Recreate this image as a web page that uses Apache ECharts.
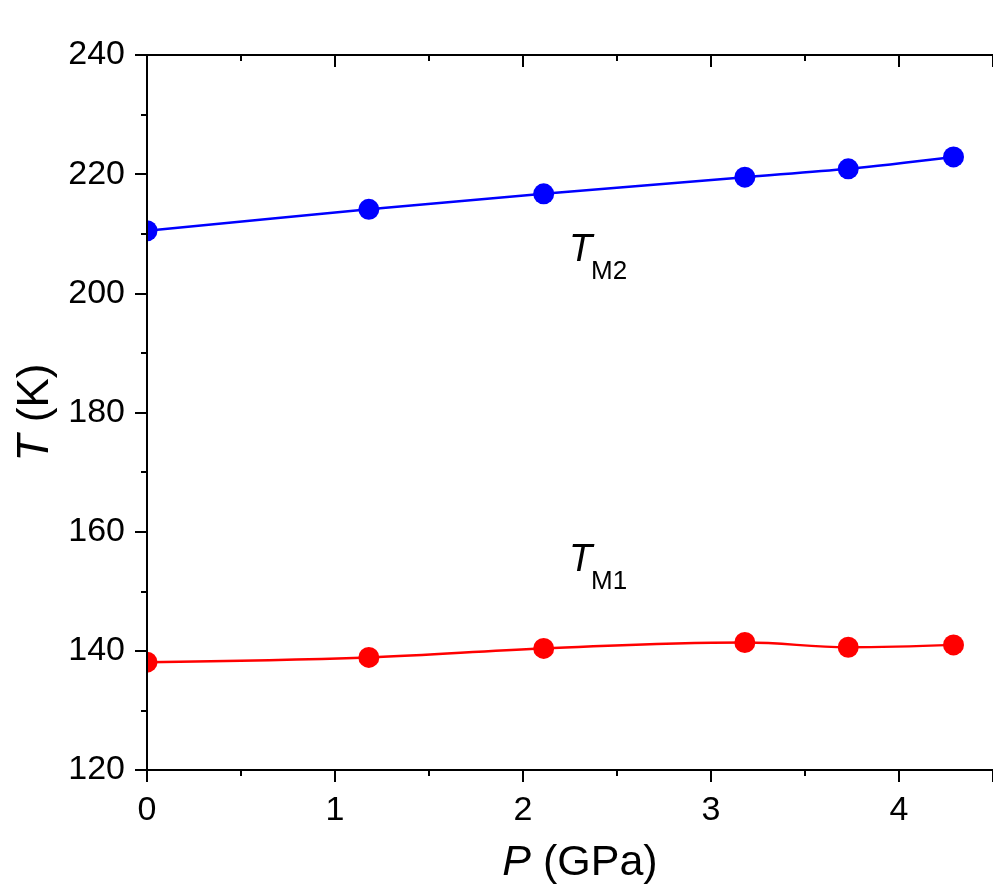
<!DOCTYPE html>
<html>
<head>
<meta charset="utf-8">
<script src="https://cdn.jsdelivr.net/npm/echarts@6/dist/echarts.min.js"></script>
<style>
html, body { margin: 0; padding: 0; background: #fff; }
#main { width: 993px; height: 892px; }
</style>
</head>
<body>
<div id="main"></div>
<script>
var pressure = [0, 1.18, 2.11, 3.18, 3.73, 4.29];
var tM2 = [210.5, 214.1, 216.7, 219.5, 220.9, 222.9];
var tM1 = [138.1, 138.9, 140.4, 141.4, 140.6, 141.0];

var font = '"Liberation Sans", Arial, sans-serif';

function pairs(xs, ys) {
	return xs.map(function (x, i) { return [x, ys[i]]; });
}

function chart() {
	var myChart = echarts.init(document.getElementById('main'));
	var axisLine = { lineStyle: { color: '#000', width: 2 } };
	option = {
		animation: false,
		grid: { left: 147, top: 55, right: -4.5, bottom: 122 },
		xAxis: [{
			type: 'value', min: 0, max: 4.5, interval: 1, position: 'bottom', z: 20,
			name: '{i|P} (GPa)', nameLocation: 'middle', nameGap: 72,
			nameTextStyle: {
				fontSize: 43, fontFamily: font, color: '#000', padding: [0, 0, 0, 20],
				rich: { i: { fontStyle: 'italic', fontSize: 43, fontFamily: font, color: '#000' } }
			},
			axisLine: axisLine,
			axisTick: { inside: false, length: 12, lineStyle: { color: '#000', width: 2 } },
			minorTick: { show: true, splitNumber: 2, length: 6, lineStyle: { color: '#000', width: 2 } },
			axisLabel: { margin: 24, fontSize: 34, fontFamily: font, color: '#000', showMaxLabel: false },
			splitLine: { show: false }
		}, {
			type: 'value', min: 0, max: 4.5, interval: 1, position: 'top', z: 20,
			axisLine: axisLine,
			axisTick: { inside: true, length: 12, lineStyle: { color: '#000', width: 2 } },
			minorTick: { show: true, splitNumber: 2, length: 6, lineStyle: { color: '#000', width: 2 } },
			axisLabel: { show: false },
			splitLine: { show: false }
		}],
		yAxis: [{
			type: 'value', min: 120, max: 240, interval: 20, position: 'left', z: 20,
			name: '{i|T} (K)', nameLocation: 'middle', nameGap: 84, nameRotate: 90,
			nameTextStyle: {
				fontSize: 44, fontFamily: font, color: '#000',
				rich: { i: { fontStyle: 'italic', fontSize: 44, fontFamily: font, color: '#000' } }
			},
			axisLine: axisLine,
			axisTick: { inside: false, length: 12, lineStyle: { color: '#000', width: 2 } },
			minorTick: { show: true, splitNumber: 2, length: 6, lineStyle: { color: '#000', width: 2 } },
			axisLabel: { margin: 22, fontSize: 34, fontFamily: font, color: '#000' },
			splitLine: { show: false }
		}, {
			type: 'value', min: 120, max: 240, interval: 20, position: 'right', z: 20,
			axisLine: axisLine,
			axisTick: { inside: true, length: 12, lineStyle: { color: '#000', width: 2 } },
			minorTick: { show: true, splitNumber: 2, length: 6, lineStyle: { color: '#000', width: 2 } },
			axisLabel: { show: false },
			splitLine: { show: false }
		}],
		graphic: [
			{ type: 'rect', left: 0, top: 0, z: 10, zlevel: 0, shape: { x: 0, y: 0, width: 146, height: 892 }, style: { fill: '#ffffff' } }, //遮住左侧半个点
			{ type: 'text', left: 569, top: 231, z: 10, style: { text: 'T', font: 'italic 38px ' + font, fill: '#000' } },
			{ type: 'text', left: 591, top: 259, z: 10, style: { text: 'M2', font: '26px ' + font, fill: '#000' } },
			{ type: 'text', left: 569, top: 541, z: 10, style: { text: 'T', font: 'italic 38px ' + font, fill: '#000' } },
			{ type: 'text', left: 591, top: 569, z: 10, style: { text: 'M1', font: '26px ' + font, fill: '#000' } }
		],
		series: [{
			name: 'TM2',
			type: 'line',
			z: 1,
			data: pairs(pressure, tM2),
			smooth: 0.3,
			symbol: 'circle',
			symbolSize: 21,
			itemStyle: { color: '#0000ff' },
			lineStyle: { color: '#0000ff', width: 2.5 }
		}, {
			name: 'TM1',
			type: 'line',
			z: 1,
			data: pairs(pressure, tM1),
			smooth: 0.4,
			symbol: 'circle',
			symbolSize: 21,
			itemStyle: { color: '#ff0000' },
			lineStyle: { color: '#ff0000', width: 2.5 }
		}]
	};
	myChart.setOption(option);
}
chart();
</script>
</body>
</html>
